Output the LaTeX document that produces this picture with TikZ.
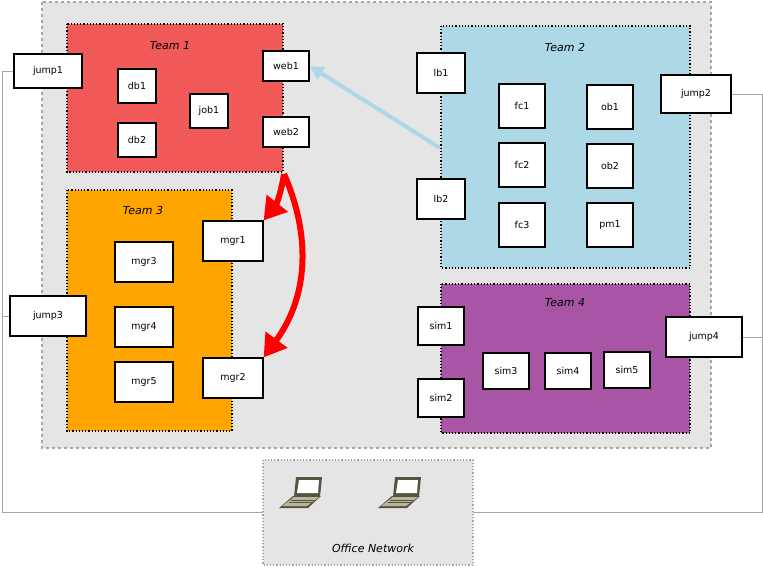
\documentclass[tikz,border=0pt]{standalone}
\usepackage{fontspec}
\setmainfont{DejaVu Sans}
\usetikzlibrary{arrows.meta}
\definecolor{bggray}{HTML}{E5E5E5}
\definecolor{teamred}{HTML}{F25A5A}
\definecolor{teamblue}{HTML}{ADD8E6}
\definecolor{teamorange}{HTML}{FFA500}
\definecolor{teampurple}{HTML}{A855A5}
\definecolor{laptop}{HTML}{55553F}
\definecolor{laptopfill}{HTML}{B9B89E}
\tikzset{
  host/.style={draw, line width=1.2pt, fill=white, inner sep=0pt, font=\fontsize{9.5}{11}\selectfont},
  team/.style={draw, dotted, line width=1.2pt},
  title/.style={font=\itshape\fontsize{11}{13}\selectfont},
  wire/.style={draw=gray!70, line width=1pt}
}
\newcommand{\laptopicon}[1]{%
  \fill[laptop] (#1)+(-10pt,18pt) -- +(16pt,18pt) -- +(14pt,-2pt) -- +(-12pt,-2pt) -- cycle;
  \fill[white] (#1)+(-7pt,15pt) -- +(13pt,15pt) -- +(12pt,2pt) -- +(-9pt,2pt) -- cycle;
  \fill[laptop] (#1)+(-13pt,-1pt) -- +(15pt,-1pt) -- +(2pt,-13pt) -- +(-27pt,-13pt) -- cycle;
  \fill[laptopfill] (#1)+(-12pt,-2pt) -- +(13pt,-2pt) -- +(1pt,-11pt) -- +(-24pt,-11pt) -- cycle;
  \draw[laptop, line width=0.8pt] (#1)+(-15pt,-5pt) -- +(8pt,-5pt) +(-17pt,-7pt) -- +(6pt,-7pt);
}
\begin{document}
\begin{tikzpicture}
    \useasboundingbox (0pt,0pt) rectangle (763pt,-566pt);
    % areas
    \draw[gray!70, dashed, line width=1.2pt, fill=bggray] (42pt,-2pt) rectangle (711pt,-448pt);
    \draw[gray!70, dotted, line width=1.2pt, fill=bggray] (263pt,-460pt) rectangle (473pt,-565pt);
    \draw[team, fill=teamred] (67pt,-24pt) rectangle (283pt,-172pt);
    \draw[team, fill=teamblue] (441pt,-26pt) rectangle (690pt,-268pt);
    \draw[team, fill=teamorange] (67pt,-190pt) rectangle (232pt,-431pt);
    \draw[team, fill=teampurple] (441pt,-284pt) rectangle (690pt,-433pt);
    \node[title] (t1) at (170pt,-46pt) {Team 1};
    \node[title] (t2) at (565pt,-47pt) {Team 2};
    \node[title] (t3) at (143pt,-210pt) {Team 3};
    \node[title] (t4) at (565pt,-303pt) {Team 4};
    \node[title] (office) at (373pt,-548pt) {Office Network};
    \coordinate (lap1) at (306pt,-495pt);
    \coordinate (lap2) at (405pt,-495pt);
    \laptopicon{lap1}
    \laptopicon{lap2}
    % hosts
    \node[host, minimum width=68pt, minimum height=34pt] (jump1) at (48pt,-71pt) {jump1};
    \node[host, minimum width=38pt, minimum height=34pt] (db1) at (137pt,-86pt) {db1};
    \node[host, minimum width=38pt, minimum height=34pt] (db2) at (137pt,-140pt) {db2};
    \node[host, minimum width=38pt, minimum height=34pt] (job1) at (209pt,-111pt) {job1};
    \node[host, minimum width=46pt, minimum height=30pt] (web1) at (286pt,-66pt) {web1};
    \node[host, minimum width=46pt, minimum height=30pt] (web2) at (286pt,-132pt) {web2};
    \node[host, minimum width=48pt, minimum height=40pt] (lb1) at (441pt,-73pt) {lb1};
    \node[host, minimum width=48pt, minimum height=40pt] (lb2) at (441pt,-199pt) {lb2};
    \node[host, minimum width=46pt, minimum height=44pt] (fc1) at (522pt,-106pt) {fc1};
    \node[host, minimum width=46pt, minimum height=44pt] (fc2) at (522pt,-165pt) {fc2};
    \node[host, minimum width=46pt, minimum height=44pt] (fc3) at (522pt,-225pt) {fc3};
    \node[host, minimum width=46pt, minimum height=44pt] (ob1) at (610pt,-107pt) {ob1};
    \node[host, minimum width=46pt, minimum height=44pt] (ob2) at (610pt,-166pt) {ob2};
    \node[host, minimum width=46pt, minimum height=44pt] (pm1) at (610pt,-225pt) {pm1};
    \node[host, minimum width=70pt, minimum height=38pt] (jump2) at (696pt,-94pt) {jump2};
    \node[host, minimum width=58pt, minimum height=40pt] (mgr3) at (144pt,-262pt) {mgr3};
    \node[host, minimum width=58pt, minimum height=40pt] (mgr4) at (144pt,-327pt) {mgr4};
    \node[host, minimum width=58pt, minimum height=40pt] (mgr5) at (144pt,-382pt) {mgr5};
    \node[host, minimum width=60pt, minimum height=40pt] (mgr1) at (233pt,-241pt) {mgr1};
    \node[host, minimum width=60pt, minimum height=40pt] (mgr2) at (233pt,-378pt) {mgr2};
    \node[host, minimum width=76pt, minimum height=40pt] (jump3) at (48pt,-316pt) {jump3};
    \node[host, minimum width=46pt, minimum height=38pt] (sim1) at (441pt,-326pt) {sim1};
    \node[host, minimum width=46pt, minimum height=38pt] (sim2) at (441pt,-398pt) {sim2};
    \node[host, minimum width=46pt, minimum height=36pt] (sim3) at (506pt,-371pt) {sim3};
    \node[host, minimum width=46pt, minimum height=36pt] (sim4) at (568pt,-371pt) {sim4};
    \node[host, minimum width=46pt, minimum height=36pt] (sim5) at (627pt,-370pt) {sim5};
    \node[host, minimum width=76pt, minimum height=40pt] (jump4) at (704pt,-337pt) {jump4};
    % wiring
    \coordinate (cornerA) at (2pt,-512pt);
    \coordinate (cornerB) at (762pt,-512pt);
    \draw[wire] (jump1.west) -- (2pt,-71pt) -- (cornerA) -- (263pt,-512pt);
    \draw[wire] (jump3.west) -- (2pt,-316pt);
    \draw[wire] (jump2.east) -- (762pt,-94pt) -- (cornerB) -- (473pt,-512pt);
    \draw[wire] (jump4.east) -- (762pt,-337pt);
    % arrows
    \coordinate (split) at (284pt,-174pt);
    \coordinate (lbpoint) at (440pt,-148pt);
    \draw[teamblue, line width=4pt, -{Triangle[length=14pt,width=14pt]}] (lbpoint) -- (web1.east);
    \draw[red, line width=6pt, -{Triangle[length=22pt,width=26pt]}] (split) to[bend left=15] (mgr1.north east);
    \draw[red, line width=6pt, -{Triangle[length=22pt,width=26pt]}] (split) to[bend left=30] (mgr2.north east);
\end{tikzpicture}
\end{document}
